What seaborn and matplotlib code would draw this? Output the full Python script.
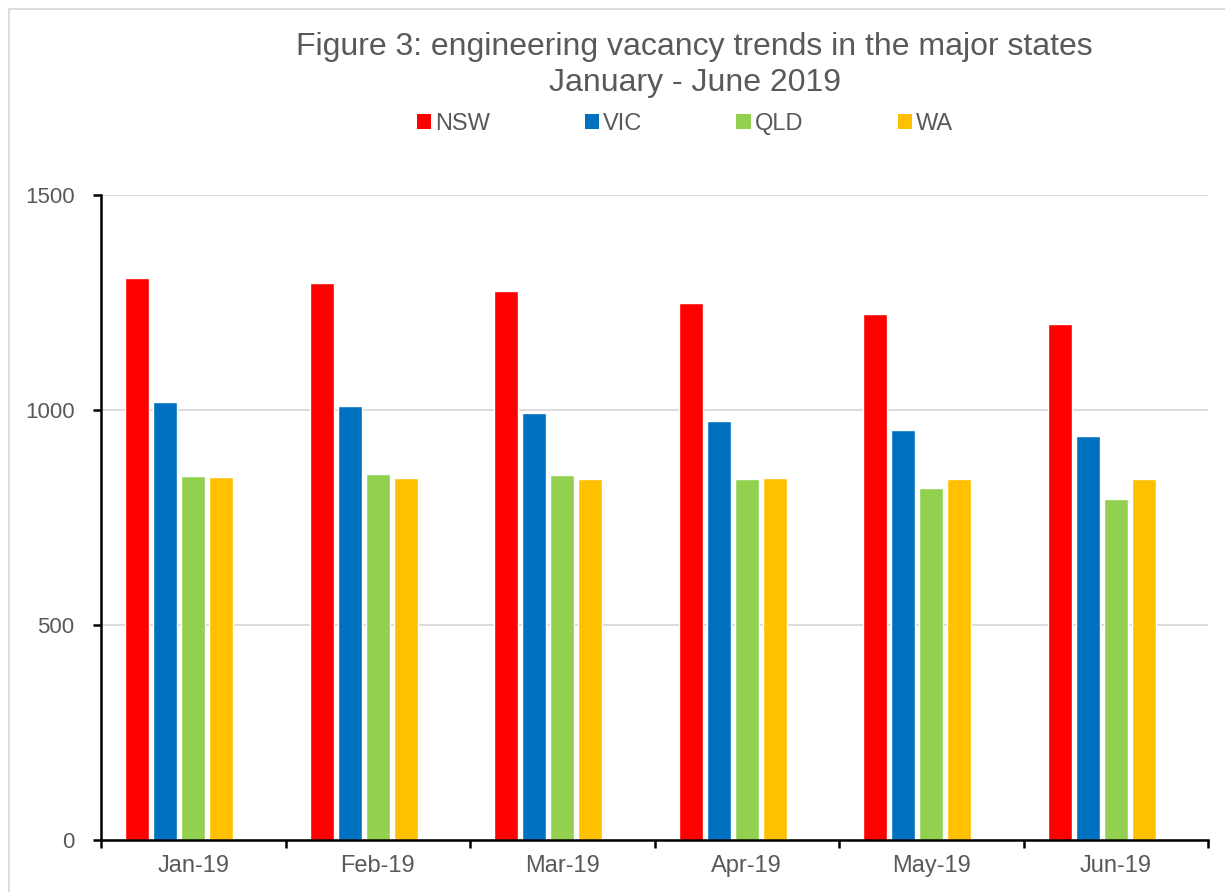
import matplotlib
matplotlib.use("Agg")
import matplotlib.pyplot as plt
import seaborn as sns
import pandas as pd
import numpy as np
from matplotlib.patches import Rectangle

months = ["Jan-19", "Feb-19", "Mar-19", "Apr-19", "May-19", "Jun-19"]
states = ["NSW", "VIC", "QLD", "WA"]
nsw = [1308, 1295, 1276, 1250, 1223, 1201]
vic = [1019, 1010, 993, 974, 954, 940]
qld = [847, 851, 850, 840, 818, 794]
wa = [844, 842, 839, 841, 840, 839]
colors = ["#FF0000", "#0070C0", "#92D050", "#FFC000"]
yticks = [0, 500, 1000, 1500]

rows = []
for st, vals in zip(states, [nsw, vic, qld, wa]):
    for m, v in zip(months, vals):
        rows.append({"month": m, "state": st, "value": v})
df = pd.DataFrame(rows)

sns.set_theme(style="white")
plt.rcParams["font.family"] = ["Liberation Sans", "DejaVu Sans"]

fig = plt.figure(figsize=(12.25, 8.92), dpi=100)
ax = fig.add_axes([101/1225, 1 - 840/892, (1208-101)/1225, (840-195)/892])

# a fifth, empty hue slot mimics the reference spacing
hue_order = states + ["_blank"]
palette = dict(zip(states, colors))
palette["_blank"] = "#FFFFFF"
sns.barplot(data=df, x="month", y="value", hue="state", hue_order=hue_order,
            order=months, palette=palette, width=0.759, gap=0.14,
            dodge=True, legend=False, ax=ax, saturation=1, errorbar=None)

ax.set_xlim(-0.5, len(months) - 0.5)
ax.set_ylim(0, 1500)
ax.set_yticks(yticks)
ax.set_yticklabels([str(t) for t in yticks])
ax.set_xlabel("")
ax.set_ylabel("")
ax.yaxis.grid(True, color="#D9D9D9", linewidth=1.3)
ax.set_axisbelow(True)

for s in ["top", "right"]:
    ax.spines[s].set_visible(False)
for s in ["left", "bottom"]:
    ax.spines[s].set_color("black")
    ax.spines[s].set_linewidth(1.8)

# category ticks at boundaries
ax.set_xticks(np.arange(len(months)))
ax.set_xticklabels(months)
ax.set_xticks(np.arange(-0.5, len(months)), minor=True)
ax.tick_params(axis="x", which="major", length=0, labelsize=17, labelcolor="#595959", pad=11)
ax.tick_params(axis="x", which="minor", length=6, width=1.8, color="black", direction="out", bottom=True)
ax.tick_params(axis="y", which="major", length=6, width=1.8, color="black", direction="out", left=True,
               labelsize=16, labelcolor="#595959", pad=13)

fig.text(0.567, 1 - 47/892, "Figure 3: engineering vacancy trends in the major states",
         ha="center", va="center", fontsize=23, color="#595959")
fig.text(0.567, 1 - 83/892, "January - June 2019",
         ha="center", va="center", fontsize=23, color="#595959")

# legend
handles = [Rectangle((0, 0), 1, 1, facecolor=c, edgecolor="none") for c in colors]
leg = fig.legend(handles, states, loc="center", bbox_to_anchor=(685/1225, 1 - 124/892), ncol=4,
                 frameon=False, fontsize=17, handlelength=0.6, handleheight=0.6,
                 handletextpad=0.17, columnspacing=4.0, borderpad=0, borderaxespad=0)
for t in leg.get_texts():
    t.set_color("#595959")

# chart area border
fig.patches.append(Rectangle((9/1225, -0.05), 1.1, 1 - 9/892 + 0.05, transform=fig.transFigure,
                             fill=False, edgecolor="#D9D9D9", linewidth=1.3))

fig.savefig("out.png", dpi=100)
